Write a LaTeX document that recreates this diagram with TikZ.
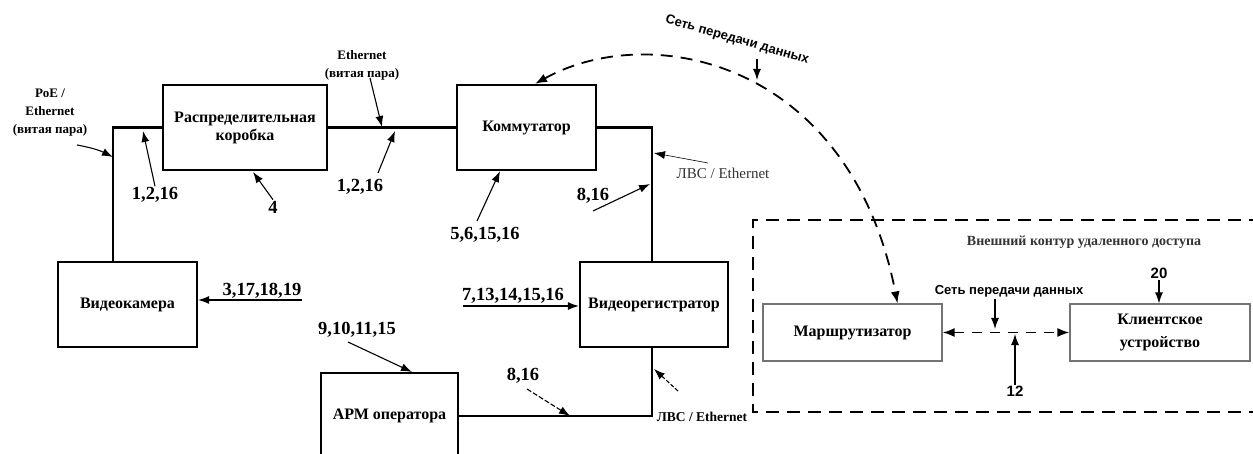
\documentclass[tikz,border=0pt]{standalone}
\usepackage{fontspec}
\setmainfont{Liberation Serif}
\newfontfamily\sansbold{Liberation Sans}
\usetikzlibrary{positioning,arrows.meta,calc}

\tikzset{
  box/.style={draw,line width=2.3pt,align=center,inner sep=0pt,font=\bfseries\fontsize{16}{18}\selectfont},
  thinbox/.style={draw=black!55,line width=1.2pt,align=center,inner sep=0pt,font=\bfseries\fontsize{16}{23}\selectfont},
  wire/.style={line width=2.8pt},
  num/.style={font=\bfseries\fontsize{18.5}{20}\selectfont,inner sep=1pt},
  note/.style={font=\bfseries\fontsize{13}{18}\selectfont,align=center,inner sep=1pt},
  dnote/.style={font=\sansbold\bfseries\fontsize{13}{15}\selectfont,inner sep=1pt},
  ptr/.style={line width=1.1pt,-{Latex[length=11pt,width=8pt]}},
  netline/.style={line width=1.8pt,dash pattern=on 12pt off 8pt},
  tip/.style={{Latex[length=12pt,width=9pt]}-{Latex[length=12pt,width=9pt]}}
}

\begin{document}
\begin{tikzpicture}[x=1pt,y=-1pt]
        \useasboundingbox (0,0) rectangle (1253,454);

        \node[box,minimum width=164pt,minimum height=85pt] (korobka) at (245,127.5) {Распределительная\\коробка};
        \node[box,minimum width=139pt,minimum height=85pt] (kamera) at (127.5,304.5) {Видеокамера};
        \node[box,minimum width=139pt,minimum height=85pt] (kommutator) at (526.5,127.5) {Коммутатор};
        \node[box,minimum width=148pt,minimum height=85pt] (registrator) at (654,304.5) {Видеорегистратор};
        \node[box,minimum width=137pt,minimum height=86pt] (arm) at (389.5,416) {АРМ оператора};
        \node[thinbox,minimum width=179pt,minimum height=57pt] (router) at (852.5,332.5) {Маршрутизатор};
        \node[thinbox,minimum width=180pt,minimum height=57pt] (klient) at (1160,332.5) {Клиентское\\устройство};

        \coordinate (ugol1) at (113,128);
        \coordinate (ugol2) at (652,128);
        \coordinate (ugol3) at (652,416);
        \draw[wire] (kamera.north -| ugol1) -- (ugol1 |- korobka.west) -- (korobka.west);
        \draw[wire] (korobka.east) -- (kommutator.west);
        \draw[wire] (kommutator.east) -- (ugol2 |- kommutator.east) -- (registrator.north -| ugol2);
        \draw[wire] (registrator.south -| ugol3) -- (ugol3) -- (ugol3 -| arm.east);

        \draw[netline,dash pattern=on 13pt off 8pt] (1262,412) -| (753,220) -- (1262,220);
        \node[font=\bfseries\fontsize{14}{16}\selectfont,text=black!80] (kontur) at (1084,242) {Внешний контур удаленного доступа};

        \draw[netline,tip] ($(kommutator.north)+(8.5,0)$) .. controls (650,20) and (850,60) .. ($(router.north west)!0.75!(router.north east)$);
        \draw[netline,dash pattern=on 10pt off 8pt,tip] (router.east) -- (klient.west);

        \node[note] (poe) at (50,113) {PoE /\\Ethernet\\(витая пара)};
        \coordinate (poe-from) at (77,145);
        \coordinate (poe-to) at (113,157);
        \draw[ptr] (poe-from) to[bend left=8] (poe-to);

        \node[num] (n1) at (155,195) {1,2,16};
        \coordinate (n1-to) at (143,131);
        \draw[ptr] (n1.north) -- (n1-to);

        \node[num] (n4) at (273,207) {4};
        \coordinate (n4-to) at (253,172);
        \draw[ptr] (n4.north) -- (n4-to);

        \node[note] (eth) at (362,65) {Ethernet\\(витая пара)};
        \coordinate (eth-from) at (370,78);
        \coordinate (eth-to) at (382,127);
        \draw[ptr] (eth-from) -- (eth-to);

        \node[num] (n2) at (360,187) {1,2,16};
        \coordinate (n2-from) at (378,173);
        \coordinate (n2-to) at (395,131);
        \draw[ptr] (n2-from) -- (n2-to);

        \node[num] (n5) at (485,235) {5,6,15,16};
        \coordinate (n5-from) at (477,221);
        \draw[ptr] (n5-from) -- (kommutator.south -| 500,0);

        \node[num] (n8a) at (593,196) {8,16};
        \coordinate (n8a-from) at (593,211);
        \coordinate (n8a-to) at (650,184);
        \draw[ptr] (n8a-from) -- (n8a-to);

        \node[font=\fontsize{15}{17}\selectfont,text=black!80] (lvs1) at (723,173) {ЛВС / Ethernet};
        \coordinate (lvs1-from) at (708,163);
        \coordinate (lvs1-to) at (654,153);
        \draw[ptr,line width=0.6pt] (lvs1-from) -- (lvs1-to);

        \node[num] (n3) at (262,291) {3,17,18,19};
        \coordinate (n3-from) at (302,300);
        \draw[ptr] (n3-from) -- (n3-from -| kamera.east);

        \node[num] (n7) at (513,296) {7,13,14,15,16};
        \coordinate (n7-from) at (463,306);
        \draw[ptr] (n7-from) -- (n7-from -| registrator.west);

        \node[num] (n9) at (357,330) {9,10,11,15};
        \coordinate (n9-from) at (348,342);
        \coordinate (n9-to) at (412,372);
        \draw[ptr] (n9-from) -- (n9-to);

        \node[num] (n8b) at (523,376) {8,16};
        \coordinate (n8b-from) at (527,389);
        \coordinate (n8b-to) at (570,416);
        \draw[ptr,dash pattern=on 5pt off 2pt] (n8b-from) -- (n8b-to);

        \node[font=\bfseries\fontsize{13.5}{15}\selectfont] (lvs2) at (702,417) {ЛВС / Ethernet};
        \coordinate (lvs2-from) at (678,391);
        \coordinate (lvs2-to) at (654,369);
        \draw[ptr,dash pattern=on 4pt off 2pt] (lvs2-from) -- (lvs2-to);

        \node[dnote,rotate=-16] (set1) at (737,40) {Сеть передачи данных};
        \coordinate (set1-from) at (757,59);
        \coordinate (set1-to) at (757,80);
        \draw[ptr] (set1-from) -- (set1-to);

        \node[dnote] (set2) at (1009,291) {Сеть передачи данных};
        \coordinate (set2-from) at (995,299);
        \coordinate (set2-to) at (995,329);
        \draw[ptr] (set2-from) -- (set2-to);

        \node[dnote,font=\sansbold\bfseries\fontsize{15}{17}\selectfont] (n20) at (1159,273) {20};
        \draw[ptr] (n20.south) -- (klient.north -| n20);

        \node[dnote,font=\sansbold\bfseries\fontsize{15}{17}\selectfont] (n12) at (1015,391) {12};
        \coordinate (n12-to) at (1015,334);
        \draw[ptr] (n12.north) -- (n12-to);
\end{tikzpicture}
\end{document}
